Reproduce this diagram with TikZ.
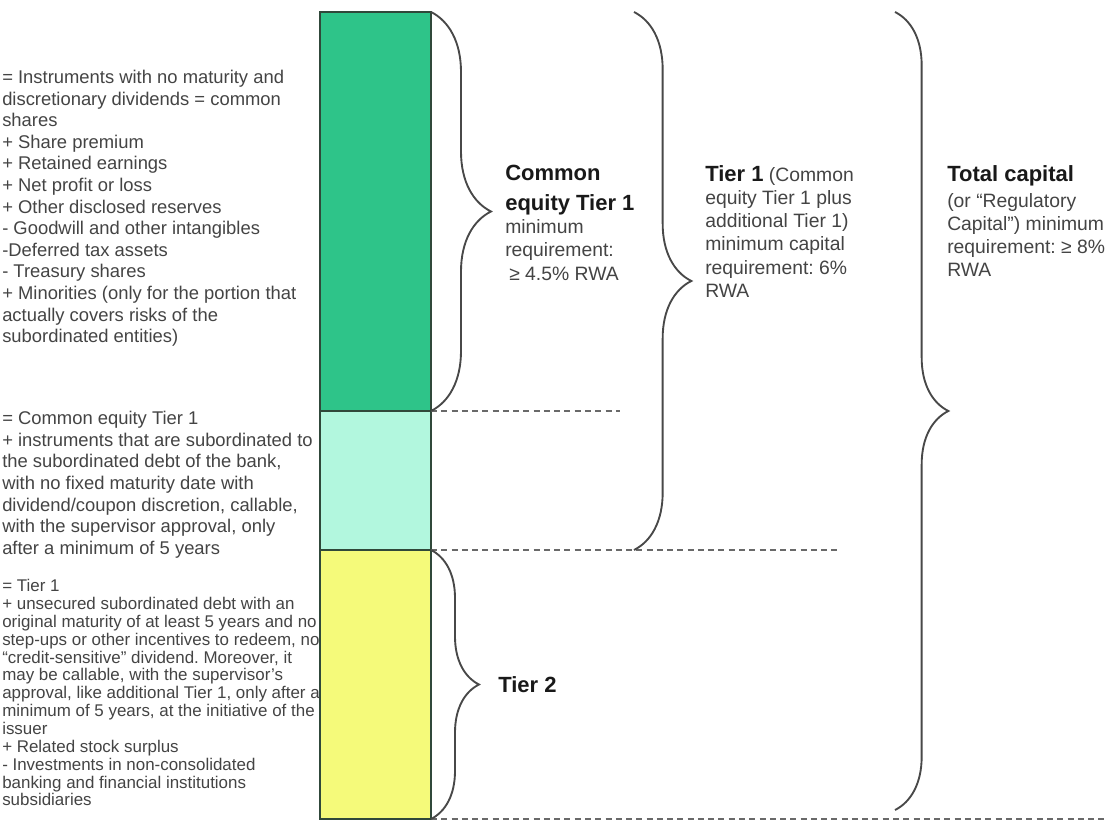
\documentclass[tikz,border=0pt]{standalone}
\usepackage{fontspec}
\setmainfont{Liberation Sans}
\usetikzlibrary{positioning,decorations.pathreplacing}
\definecolor{cetgreen}{RGB}{46,196,137}
\definecolor{atmint}{RGB}{178,247,222}
\definecolor{tiyellow}{RGB}{245,250,122}
\definecolor{barline}{RGB}{48,72,58}
\definecolor{inkgray}{RGB}{68,68,68}
\definecolor{bracegray}{RGB}{72,72,72}
\definecolor{dashgray}{RGB}{105,105,105}
\newcommand{\headfont}{\bfseries\fontsize{16.5}{20}\selectfont\color{black!90}}
\frenchspacing
\tikzset{
    barpart/.style={draw=barline, line width=1.2pt, minimum width=111*0.75pt, inner sep=0pt, outer sep=0pt},
    capbrace/.style={draw=bracegray, line width=1.4pt, decorate, decoration={brace, amplitude=#1}},
    levelline/.style={draw=dashgray, line width=1.4pt, dash pattern=on 4.5pt off 3.2pt},
    lefttext/.style={align=left, anchor=north west, inner sep=0pt, text=inkgray, font=\fontsize{13.8}{16.2}\selectfont},
    tiertext/.style={align=left, anchor=north west, inner sep=0pt, text=inkgray, font=\fontsize{14.5}{17.4}\selectfont}
}
\begin{document}
\begin{tikzpicture}[x=0.75pt, y=-0.75pt]
    \useasboundingbox[fill=white] (0,0) rectangle (1106,837);

    % stacked capital bar
    \node[barpart, fill=cetgreen, minimum height=399*0.75pt] (cet1bar) at (375.5,211.5) {};
    \node[barpart, fill=atmint, minimum height=139*0.75pt, below=0pt of cet1bar] (at1bar) {};
    \node[barpart, fill=tiyellow, minimum height=269*0.75pt, below=0pt of at1bar] (t2bar) {};

    % level lines
    \coordinate (cet1end) at (620,411);
    \coordinate (t1end) at (838,550);
    \coordinate (totend) at (1104,819);
    \draw[levelline] (cet1bar.south east) -- (cet1end);
    \draw[levelline] (at1bar.south east) -- (t1end);
    \draw[levelline] (t2bar.south east) -- (totend);

    % braces
    \coordinate (t1top) at (634,12);
    \coordinate (t1bot) at (634,550);
    \coordinate (tottop) at (895,12);
    \coordinate (totbot) at (895,810);
    \draw[capbrace=45pt] (cet1bar.north east) -- (cet1bar.south east);
    \draw[capbrace=36pt] (t2bar.north east) -- (t2bar.south east);
    \draw[capbrace=43pt] (t1top) -- (t1bot);
    \draw[capbrace=40pt] (tottop) -- (totbot);

    % descriptions
    \node[lefttext] (cet1desc) at (2,70) {= Instruments with no maturity and\\discretionary dividends = common\\shares\\+ Share premium\\+ Retained earnings\\+ Net profit or loss\\+ Other disclosed reserves\\- Goodwill and other intangibles\\-Deferred tax assets\\- Treasury shares\\+ Minorities (only for the portion that\\actually covers risks of the\\subordinated entities)};
    \node[lefttext] (at1desc) at (2,411) {= Common equity Tier 1\\+ instruments that are subordinated to\\the subordinated debt of the bank,\\with no fixed maturity date with\\dividend/coupon discretion, callable,\\with the supervisor approval, only\\after a minimum of 5 years};
    \node[lefttext, font=\fontsize{12.7}{13.4}\selectfont] (t2desc) at (2,579) {= Tier 1\\+ unsecured subordinated debt with an\\original maturity of at least 5 years and no\\step-ups or other incentives to redeem, no\\“credit-sensitive” dividend. Moreover, it\\may be callable, with the supervisor’s\\approval, like additional Tier 1, only after a\\minimum of 5 years, at the initiative of the\\issuer\\+ Related stock surplus\\- Investments in non-consolidated\\banking and financial institutions\\subsidiaries};

    % tier labels
    \node[tiertext] (cet1label) at (505,165) {{\headfont Common}\\[5pt]{\headfont equity Tier 1}\\minimum\\requirement:\\\hspace{3pt}≥ 4.5\% RWA};
    \node[tiertext] (t1label) at (705,165) {{\headfont Tier 1} (Common\\equity Tier 1 plus\\additional Tier 1)\\minimum capital\\requirement: 6\%\\RWA};
    \node[tiertext] (totlabel) at (947,165) {{\headfont Total capital}\\[2pt](or “Regulatory\\Capital”) minimum\\requirement: ≥ 8\%\\RWA};
    \node[tiertext, anchor=west] (t2label) at (498,685) {\headfont Tier 2};
\end{tikzpicture}
\end{document}
